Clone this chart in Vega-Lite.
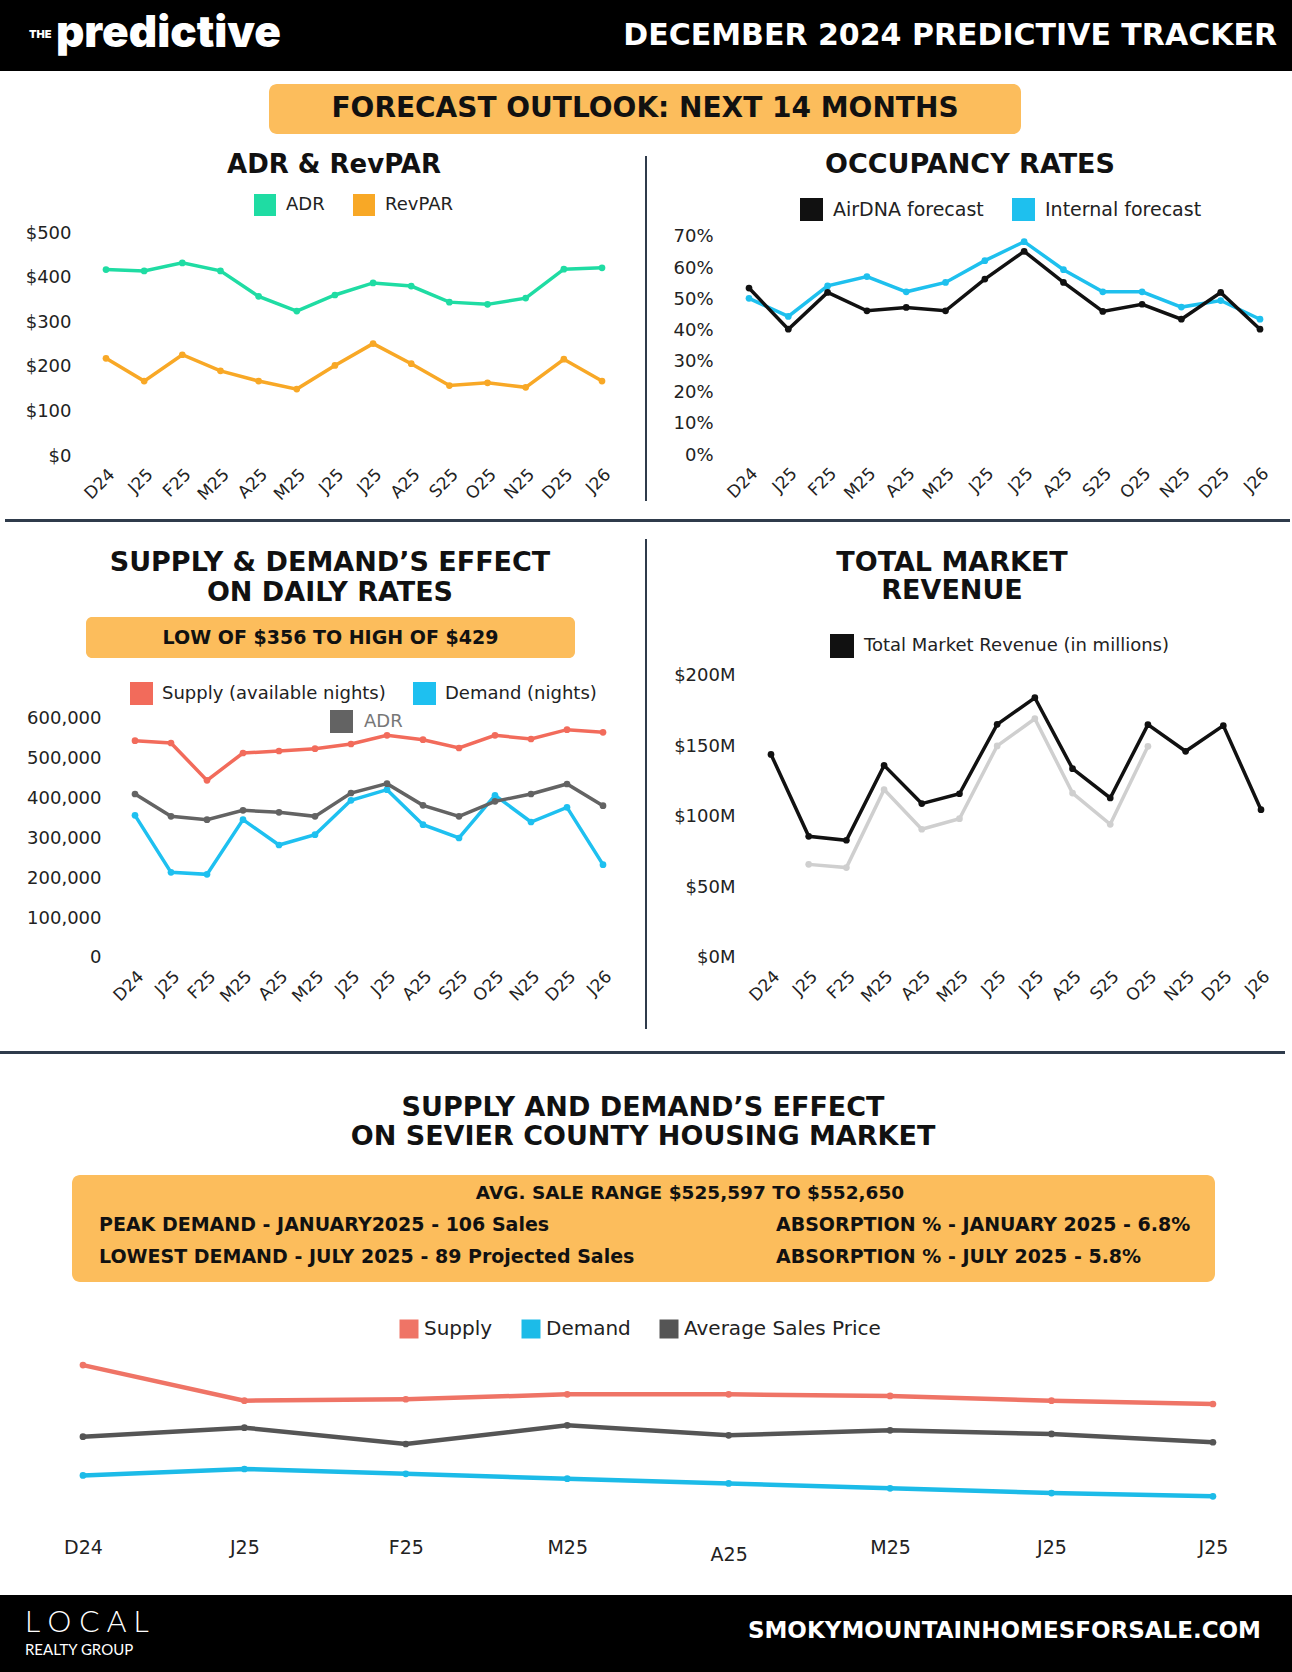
{
  "$schema": "https://vega.github.io/schema/vega-lite/v6.json",
  "padding": 0,
  "background": "#ffffff",
  "spacing": 0,
  "resolve": {"scale": {"color": "independent", "fill": "independent"}, "legend": {"color": "independent", "fill": "independent"}},
  "config": {
    "view": {"stroke": null},
    "concat": {"spacing": 0},
    "font": "DejaVu Sans",
    "axis": {"labelFont": "DejaVu Sans", "labelColor": "#222222", "domain": false, "ticks": false, "grid": false, "title": null, "labelOverlap": false, "labelFlush": false},
    "legend": {"labelFont": "DejaVu Sans", "labelColor": "#222222", "symbolType": "square", "symbolStrokeWidth": 0, "padding": 0, "symbolOpacity": 1, "labelLimit": 600},
    "point": {"opacity": 1}
  },
  "datasets": {
    "adr": [
      {"month": "2024-12", "series": "ADR", "value": 418}, {"month": "2025-01", "series": "ADR", "value": 415},
      {"month": "2025-02", "series": "ADR", "value": 433}, {"month": "2025-03", "series": "ADR", "value": 415},
      {"month": "2025-04", "series": "ADR", "value": 358}, {"month": "2025-05", "series": "ADR", "value": 325},
      {"month": "2025-06", "series": "ADR", "value": 361}, {"month": "2025-07", "series": "ADR", "value": 388},
      {"month": "2025-08", "series": "ADR", "value": 381}, {"month": "2025-09", "series": "ADR", "value": 345},
      {"month": "2025-10", "series": "ADR", "value": 340}, {"month": "2025-11", "series": "ADR", "value": 354},
      {"month": "2025-12", "series": "ADR", "value": 419}, {"month": "2026-01", "series": "ADR", "value": 422},
      {"month": "2024-12", "series": "RevPAR", "value": 219}, {"month": "2025-01", "series": "RevPAR", "value": 168},
      {"month": "2025-02", "series": "RevPAR", "value": 227}, {"month": "2025-03", "series": "RevPAR", "value": 191},
      {"month": "2025-04", "series": "RevPAR", "value": 168}, {"month": "2025-05", "series": "RevPAR", "value": 150},
      {"month": "2025-06", "series": "RevPAR", "value": 203}, {"month": "2025-07", "series": "RevPAR", "value": 252},
      {"month": "2025-08", "series": "RevPAR", "value": 207}, {"month": "2025-09", "series": "RevPAR", "value": 158},
      {"month": "2025-10", "series": "RevPAR", "value": 164}, {"month": "2025-11", "series": "RevPAR", "value": 154},
      {"month": "2025-12", "series": "RevPAR", "value": 217}, {"month": "2026-01", "series": "RevPAR", "value": 168}
    ],
    "occ": [
      {"month": "2024-12", "series": "Internal forecast", "value": 0.503}, {"month": "2025-01", "series": "Internal forecast", "value": 0.445},
      {"month": "2025-02", "series": "Internal forecast", "value": 0.543}, {"month": "2025-03", "series": "Internal forecast", "value": 0.573},
      {"month": "2025-04", "series": "Internal forecast", "value": 0.524}, {"month": "2025-05", "series": "Internal forecast", "value": 0.554},
      {"month": "2025-06", "series": "Internal forecast", "value": 0.624}, {"month": "2025-07", "series": "Internal forecast", "value": 0.685},
      {"month": "2025-08", "series": "Internal forecast", "value": 0.595}, {"month": "2025-09", "series": "Internal forecast", "value": 0.524},
      {"month": "2025-10", "series": "Internal forecast", "value": 0.524}, {"month": "2025-11", "series": "Internal forecast", "value": 0.475},
      {"month": "2025-12", "series": "Internal forecast", "value": 0.496}, {"month": "2026-01", "series": "Internal forecast", "value": 0.436},
      {"month": "2024-12", "series": "AirDNA forecast", "value": 0.536}, {"month": "2025-01", "series": "AirDNA forecast", "value": 0.404},
      {"month": "2025-02", "series": "AirDNA forecast", "value": 0.522}, {"month": "2025-03", "series": "AirDNA forecast", "value": 0.463},
      {"month": "2025-04", "series": "AirDNA forecast", "value": 0.474}, {"month": "2025-05", "series": "AirDNA forecast", "value": 0.463},
      {"month": "2025-06", "series": "AirDNA forecast", "value": 0.565}, {"month": "2025-07", "series": "AirDNA forecast", "value": 0.654},
      {"month": "2025-08", "series": "AirDNA forecast", "value": 0.554}, {"month": "2025-09", "series": "AirDNA forecast", "value": 0.461},
      {"month": "2025-10", "series": "AirDNA forecast", "value": 0.484}, {"month": "2025-11", "series": "AirDNA forecast", "value": 0.436},
      {"month": "2025-12", "series": "AirDNA forecast", "value": 0.522}, {"month": "2026-01", "series": "AirDNA forecast", "value": 0.404}
    ],
    "daily": [
      {"month": "2024-12", "series": "Supply (available nights)", "value": 545600}, {"month": "2025-01", "series": "Supply (available nights)", "value": 539700},
      {"month": "2025-02", "series": "Supply (available nights)", "value": 446000}, {"month": "2025-03", "series": "Supply (available nights)", "value": 514600},
      {"month": "2025-04", "series": "Supply (available nights)", "value": 519700}, {"month": "2025-05", "series": "Supply (available nights)", "value": 525500},
      {"month": "2025-06", "series": "Supply (available nights)", "value": 537200}, {"month": "2025-07", "series": "Supply (available nights)", "value": 559000},
      {"month": "2025-08", "series": "Supply (available nights)", "value": 548100}, {"month": "2025-09", "series": "Supply (available nights)", "value": 527200},
      {"month": "2025-10", "series": "Supply (available nights)", "value": 559000}, {"month": "2025-11", "series": "Supply (available nights)", "value": 549800},
      {"month": "2025-12", "series": "Supply (available nights)", "value": 573200}, {"month": "2026-01", "series": "Supply (available nights)", "value": 566500},
      {"month": "2024-12", "series": "Demand (nights)", "value": 358200}, {"month": "2025-01", "series": "Demand (nights)", "value": 215100},
      {"month": "2025-02", "series": "Demand (nights)", "value": 210000}, {"month": "2025-03", "series": "Demand (nights)", "value": 347300},
      {"month": "2025-04", "series": "Demand (nights)", "value": 283700}, {"month": "2025-05", "series": "Demand (nights)", "value": 309600},
      {"month": "2025-06", "series": "Demand (nights)", "value": 395800}, {"month": "2025-07", "series": "Demand (nights)", "value": 422600},
      {"month": "2025-08", "series": "Demand (nights)", "value": 334700}, {"month": "2025-09", "series": "Demand (nights)", "value": 301300},
      {"month": "2025-10", "series": "Demand (nights)", "value": 408400}, {"month": "2025-11", "series": "Demand (nights)", "value": 341400},
      {"month": "2025-12", "series": "Demand (nights)", "value": 378200}, {"month": "2026-01", "series": "Demand (nights)", "value": 234300},
      {"month": "2024-12", "series": "ADR", "value": 411700}, {"month": "2025-01", "series": "ADR", "value": 355600},
      {"month": "2025-02", "series": "ADR", "value": 347300}, {"month": "2025-03", "series": "ADR", "value": 370700},
      {"month": "2025-04", "series": "ADR", "value": 365700}, {"month": "2025-05", "series": "ADR", "value": 355600},
      {"month": "2025-06", "series": "ADR", "value": 414200}, {"month": "2025-07", "series": "ADR", "value": 437700},
      {"month": "2025-08", "series": "ADR", "value": 383300}, {"month": "2025-09", "series": "ADR", "value": 355600},
      {"month": "2025-10", "series": "ADR", "value": 393300}, {"month": "2025-11", "series": "ADR", "value": 411700},
      {"month": "2025-12", "series": "ADR", "value": 436800}, {"month": "2026-01", "series": "ADR", "value": 382400}
    ],
    "revenue": [
      {"month": "2025-01", "series": "Prior year", "value": 66.4}, {"month": "2025-02", "series": "Prior year", "value": 64.1},
      {"month": "2025-03", "series": "Prior year", "value": 119.4}, {"month": "2025-04", "series": "Prior year", "value": 91.3},
      {"month": "2025-05", "series": "Prior year", "value": 98.8}, {"month": "2025-06", "series": "Prior year", "value": 150.4},
      {"month": "2025-07", "series": "Prior year", "value": 169.7}, {"month": "2025-08", "series": "Prior year", "value": 117.0},
      {"month": "2025-09", "series": "Prior year", "value": 94.8}, {"month": "2025-10", "series": "Prior year", "value": 150.1},
      {"month": "2024-12", "series": "Total Market Revenue (in millions)", "value": 144.4}, {"month": "2025-01", "series": "Total Market Revenue (in millions)", "value": 86.3},
      {"month": "2025-02", "series": "Total Market Revenue (in millions)", "value": 83.5}, {"month": "2025-03", "series": "Total Market Revenue (in millions)", "value": 136.6},
      {"month": "2025-04", "series": "Total Market Revenue (in millions)", "value": 109.5}, {"month": "2025-05", "series": "Total Market Revenue (in millions)", "value": 116.5},
      {"month": "2025-06", "series": "Total Market Revenue (in millions)", "value": 165.7}, {"month": "2025-07", "series": "Total Market Revenue (in millions)", "value": 184.6},
      {"month": "2025-08", "series": "Total Market Revenue (in millions)", "value": 134.3}, {"month": "2025-09", "series": "Total Market Revenue (in millions)", "value": 113.5},
      {"month": "2025-10", "series": "Total Market Revenue (in millions)", "value": 165.5}, {"month": "2025-11", "series": "Total Market Revenue (in millions)", "value": 146.6},
      {"month": "2025-12", "series": "Total Market Revenue (in millions)", "value": 164.8}, {"month": "2026-01", "series": "Total Market Revenue (in millions)", "value": 105.2}
    ],
    "housing": [
      {"month": "2024-12", "series": "Supply", "value": 1829}, {"month": "2025-01", "series": "Supply", "value": 1559},
      {"month": "2025-02", "series": "Supply", "value": 1570}, {"month": "2025-03", "series": "Supply", "value": 1607},
      {"month": "2025-04", "series": "Supply", "value": 1607}, {"month": "2025-05", "series": "Supply", "value": 1595},
      {"month": "2025-06", "series": "Supply", "value": 1559}, {"month": "2025-07", "series": "Supply", "value": 1534},
      {"month": "2024-12", "series": "Demand", "value": 102}, {"month": "2025-01", "series": "Demand", "value": 106},
      {"month": "2025-02", "series": "Demand", "value": 103}, {"month": "2025-03", "series": "Demand", "value": 100},
      {"month": "2025-04", "series": "Demand", "value": 97}, {"month": "2025-05", "series": "Demand", "value": 94},
      {"month": "2025-06", "series": "Demand", "value": 91}, {"month": "2025-07", "series": "Demand", "value": 89},
      {"month": "2024-12", "series": "Average Sales Price", "value": 536200}, {"month": "2025-01", "series": "Average Sales Price", "value": 549200},
      {"month": "2025-02", "series": "Average Sales Price", "value": 525597}, {"month": "2025-03", "series": "Average Sales Price", "value": 552650},
      {"month": "2025-04", "series": "Average Sales Price", "value": 538200}, {"month": "2025-05", "series": "Average Sales Price", "value": 545400},
      {"month": "2025-06", "series": "Average Sales Price", "value": 540100}, {"month": "2025-07", "series": "Average Sales Price", "value": 528100}
    ]
  },
  "vconcat": [
    {
      "width": 1292, "height": 71, "view": {"fill": "#000000", "stroke": null},
      "layer": [
        {"data": {"values": [{"t": "THE"}]}, "mark": {"type": "text", "font": "Inter, Roboto, sans-serif", "fontWeight": 900, "fontSize": 11, "align": "left", "baseline": "middle", "color": "#ffffff"},
         "encoding": {"text": {"field": "t", "type": "nominal"}, "x": {"field": "t", "type": "nominal", "axis": null, "scale": {"type": "point", "padding": 0, "align": 0.0225}}, "y": {"field": "t", "type": "nominal", "axis": null, "scale": {"type": "point", "padding": 0, "align": 0.49}}}},
        {"data": {"values": [{"t": "predictive"}]}, "mark": {"type": "text", "font": "Inter, Roboto, sans-serif", "fontWeight": 900, "fontSize": 44, "align": "left", "baseline": "alphabetic", "color": "#ffffff"},
         "encoding": {"text": {"field": "t", "type": "nominal"}, "x": {"field": "t", "type": "nominal", "axis": null, "scale": {"type": "point", "padding": 0, "align": 0.0433}}, "y": {"field": "t", "type": "nominal", "axis": null, "scale": {"type": "point", "padding": 0, "align": 0.662}}}},
        {"data": {"values": [{"t": "DECEMBER 2024 PREDICTIVE TRACKER"}]}, "mark": {"type": "text", "font": "DejaVu Sans", "fontWeight": "bold", "fontSize": 30, "align": "right", "baseline": "middle", "color": "#ffffff"},
         "encoding": {"text": {"field": "t", "type": "nominal"}, "x": {"field": "t", "type": "nominal", "axis": null, "scale": {"type": "point", "padding": 0, "align": 0.9884}}, "y": {"field": "t", "type": "nominal", "axis": null, "scale": {"type": "point", "padding": 0, "align": 0.5}}}}
      ],
      "resolve": {"scale": {"x": "independent", "y": "independent"}}
    },
    {
      "spacing": 0,
      "hconcat": [
        {"width": 269, "height": 75, "data": {"values": []}, "mark": "point"},
        {"spacing": 0, "vconcat": [
          {"width": 752, "height": 13, "data": {"values": []}, "mark": "point"},
          {"width": 752, "height": 50, "view": {"fill": "#fcbd5c", "cornerRadius": 8, "stroke": null},
           "data": {"values": [{"t": "FORECAST OUTLOOK: NEXT 14 MONTHS"}]},
           "mark": {"type": "text", "font": "DejaVu Sans", "fontWeight": "bold", "fontSize": 28, "align": "center", "baseline": "middle", "color": "#111111"},
           "encoding": {"text": {"field": "t", "type": "nominal"}}},
          {"width": 752, "height": 12, "data": {"values": []}, "mark": "point"}
        ]},
        {"width": 271, "height": 75, "data": {"values": []}, "mark": "point"}
      ]
    },
    {
      "spacing": 0,
      "resolve": {"scale": {"color": "independent", "fill": "independent"}, "legend": {"color": "independent", "fill": "independent"}},
      "hconcat": [
        {
          "width": 645, "height": 373,
          "layer": [
            {"data": {"values": [{"t": "ADR & RevPAR"}]}, "mark": {"type": "text", "font": "DejaVu Sans", "fontWeight": "bold", "fontSize": 26, "align": "center", "baseline": "middle", "color": "#111111"},
             "encoding": {"text": {"field": "t", "type": "nominal"}, "x": {"field": "t", "type": "nominal", "axis": null, "scale": {"type": "point", "padding": 0, "align": 0.5178}}, "y": {"field": "t", "type": "nominal", "axis": null, "scale": {"type": "point", "padding": 0, "align": 0.0509}}}},
            {
              "data": {"name": "adr"},
              "encoding": {
                "x": {"field": "month", "type": "ordinal", "scale": {"type": "point", "padding": 0, "range": [106, 602]},
                      "axis": {"orient": "bottom", "offset": -63, "labelAngle": -45, "labelFontSize": 17, "labelPadding": 10,
                               "labelExpr": "substring('JFMAMJJASOND', toNumber(substring(datum.value, 5, 7)) - 1, toNumber(substring(datum.value, 5, 7))) + substring(datum.value, 2, 4)"}},
                "y": {"field": "value", "type": "quantitative", "scale": {"domain": [-141.25, 695.07], "nice": false, "zero": false},
                      "axis": {"orient": "left", "offset": -85, "values": [0, 100, 200, 300, 400, 500], "labelExpr": "'$' + datum.value", "labelFontSize": 18, "labelPadding": 14}}
              },
              "layer": [
                {"mark": {"type": "line", "strokeWidth": 3.5}, "encoding": {"color": {"field": "series", "type": "nominal", "scale": {"domain": ["ADR", "RevPAR"], "range": ["#1fdca3", "#f8a826"]},
                  "legend": {"orient": "none", "legendX": 254, "legendY": 48, "direction": "horizontal", "title": null, "symbolType": "square", "symbolSize": 484, "labelFontSize": 18, "labelOffset": 10, "columnPadding": 28}}}},
                {"mark": {"type": "point", "filled": true, "size": 45, "opacity": 1}, "encoding": {"fill": {"field": "series", "type": "nominal", "scale": {"domain": ["ADR", "RevPAR"], "range": ["#1fdca3", "#f8a826"]},
                  "legend": {"orient": "none", "legendX": 254, "legendY": 48, "direction": "horizontal", "title": null, "symbolType": "square", "symbolSize": 484, "labelFontSize": 18, "labelOffset": 10, "columnPadding": 28}}}}
              ]
            }
          ],
          "resolve": {"scale": {"x": "independent", "y": "independent"}}
        },
        {"spacing": 0, "vconcat": [
          {"width": 2, "height": 10, "data": {"values": []}, "mark": "point"},
          {"width": 2, "height": 345, "data": {"values": []}, "mark": "point", "view": {"fill": "#2f3b4b", "stroke": null}},
          {"width": 2, "height": 18, "data": {"values": []}, "mark": "point"}
        ]},
        {
          "width": 645, "height": 373,
          "layer": [
            {"data": {"values": [{"t": "OCCUPANCY RATES"}]}, "mark": {"type": "text", "font": "DejaVu Sans", "fontWeight": "bold", "fontSize": 27, "align": "center", "baseline": "middle", "color": "#111111"},
             "encoding": {"text": {"field": "t", "type": "nominal"}, "x": {"field": "t", "type": "nominal", "axis": null, "scale": {"type": "point", "padding": 0, "align": 0.5008}}, "y": {"field": "t", "type": "nominal", "axis": null, "scale": {"type": "point", "padding": 0, "align": 0.0509}}}},
            {
              "data": {"name": "occ"},
              "encoding": {
                "x": {"field": "month", "type": "ordinal", "scale": {"type": "point", "padding": 0, "range": [102, 613]},
                      "axis": {"orient": "bottom", "offset": -64, "labelAngle": -45, "labelFontSize": 17, "labelPadding": 10,
                               "labelExpr": "substring('JFMAMJJASOND', toNumber(substring(datum.value, 5, 7)) - 1, toNumber(substring(datum.value, 5, 7))) + substring(datum.value, 2, 4)"}},
                "y": {"field": "value", "type": "quantitative", "scale": {"domain": [-0.2055, 0.9922], "nice": false, "zero": false},
                      "axis": {"orient": "left", "offset": -82, "values": [0, 0.1, 0.2, 0.3, 0.4, 0.5, 0.6, 0.7], "format": ".0%", "labelFontSize": 18, "labelPadding": 16}}
              },
              "layer": [
                {"mark": {"type": "line", "strokeWidth": 3.5}, "encoding": {"color": {"field": "series", "type": "nominal", "scale": {"domain": ["AirDNA forecast", "Internal forecast"], "range": ["#111111", "#1ec0ee"]},
                  "legend": {"orient": "none", "legendX": 153, "legendY": 52, "direction": "horizontal", "title": null, "symbolType": "square", "symbolSize": 529, "labelFontSize": 19, "labelOffset": 10, "columnPadding": 28}}}},
                {"mark": {"type": "point", "filled": true, "size": 45, "opacity": 1}, "encoding": {"fill": {"field": "series", "type": "nominal", "scale": {"domain": ["AirDNA forecast", "Internal forecast"], "range": ["#111111", "#1ec0ee"]},
                  "legend": {"orient": "none", "legendX": 153, "legendY": 52, "direction": "horizontal", "title": null, "symbolType": "square", "symbolSize": 529, "labelFontSize": 19, "labelOffset": 10, "columnPadding": 28}}}}
              ]
            }
          ],
          "resolve": {"scale": {"x": "independent", "y": "independent"}}
        }
      ]
    },
    {
      "spacing": 0,
      "hconcat": [
        {"width": 5, "height": 3, "data": {"values": []}, "mark": "point"},
        {"width": 1285, "height": 3, "data": {"values": []}, "mark": "point", "view": {"fill": "#2f3b4b", "stroke": null}},
        {"width": 2, "height": 3, "data": {"values": []}, "mark": "point"}
      ]
    },
    {
      "spacing": 0,
      "resolve": {"scale": {"color": "independent", "fill": "independent"}, "legend": {"color": "independent", "fill": "independent"}},
      "hconcat": [
        {"spacing": 0,
         "resolve": {"scale": {"color": "independent", "fill": "independent"}, "legend": {"color": "independent", "fill": "independent"}},
         "vconcat": [
          {"width": 645, "height": 95, "data": {"values": [{"t": "SUPPLY & DEMAND’S EFFECT\nON DAILY RATES"}]},
           "mark": {"type": "text", "font": "DejaVu Sans", "fontWeight": "bold", "fontSize": 27, "lineBreak": "\n", "lineHeight": 30, "align": "center", "baseline": "middle", "color": "#111111"},
           "encoding": {"text": {"field": "t", "type": "nominal"}, "x": {"field": "t", "type": "nominal", "axis": null, "scale": {"type": "point", "padding": 0, "align": 0.5116}}, "y": {"field": "t", "type": "nominal", "axis": null, "scale": {"type": "point", "padding": 0, "align": 0.4316}}}},
          {"spacing": 0, "hconcat": [
            {"width": 86, "height": 41, "data": {"values": []}, "mark": "point"},
            {"width": 489, "height": 41, "view": {"fill": "#fcbd5c", "cornerRadius": 6, "stroke": null},
             "data": {"values": [{"t": "LOW OF $356 TO HIGH OF $429"}]},
             "mark": {"type": "text", "font": "DejaVu Sans", "fontWeight": "bold", "fontSize": 19, "align": "center", "baseline": "middle", "color": "#111111"},
             "encoding": {"text": {"field": "t", "type": "nominal"}}},
            {"width": 70, "height": 41, "data": {"values": []}, "mark": "point"}
          ]},
          {
            "width": 645, "height": 393,
            "data": {"name": "daily"},
            "encoding": {
              "x": {"field": "month", "type": "ordinal", "scale": {"type": "point", "padding": 0, "range": [135, 603]},
                    "axis": {"orient": "bottom", "offset": -93, "labelAngle": -45, "labelFontSize": 17, "labelPadding": 10,
                             "labelExpr": "substring('JFMAMJJASOND', toNumber(substring(datum.value, 5, 7)) - 1, toNumber(substring(datum.value, 5, 7))) + substring(datum.value, 2, 4)"}},
              "y": {"field": "value", "type": "quantitative", "scale": {"domain": [-233473, 753138], "nice": false, "zero": false},
                    "axis": {"orient": "left", "offset": -117, "values": [0, 100000, 200000, 300000, 400000, 500000, 600000], "format": ",.0f", "labelFontSize": 18, "labelPadding": 16}}
            },
            "layer": [
              {
                "transform": [{"filter": {"field": "series", "oneOf": ["Supply (available nights)", "Demand (nights)"]}}],
                "layer": [
                  {"mark": {"type": "line", "strokeWidth": 3.5}, "encoding": {"color": {"field": "series", "type": "nominal", "scale": {"domain": ["Supply (available nights)", "Demand (nights)"], "range": ["#f26b5b", "#1ec0f0"]},
                    "legend": {"orient": "none", "legendX": 130, "legendY": 24, "direction": "horizontal", "title": null, "symbolType": "square", "symbolSize": 529, "labelFontSize": 18, "labelOffset": 9, "columnPadding": 27}}}},
                  {"mark": {"type": "point", "filled": true, "size": 45, "opacity": 1}, "encoding": {"fill": {"field": "series", "type": "nominal", "scale": {"domain": ["Supply (available nights)", "Demand (nights)"], "range": ["#f26b5b", "#1ec0f0"]},
                    "legend": {"orient": "none", "legendX": 130, "legendY": 24, "direction": "horizontal", "title": null, "symbolType": "square", "symbolSize": 529, "labelFontSize": 18, "labelOffset": 9, "columnPadding": 27}}}}
                ]
              },
              {
                "transform": [{"filter": {"field": "series", "equal": "ADR"}}],
                "layer": [
                  {"mark": {"type": "line", "strokeWidth": 3.5}, "encoding": {"color": {"field": "series", "type": "nominal", "scale": {"domain": ["ADR"], "range": ["#636363"]},
                    "legend": {"orient": "none", "legendX": 330, "legendY": 52, "direction": "horizontal", "title": null, "symbolType": "square", "symbolSize": 529, "labelFontSize": 18, "labelOffset": 11, "labelColor": "#777777"}}}},
                  {"mark": {"type": "point", "filled": true, "size": 45, "opacity": 1}, "encoding": {"fill": {"field": "series", "type": "nominal", "scale": {"domain": ["ADR"], "range": ["#636363"]},
                    "legend": {"orient": "none", "legendX": 330, "legendY": 52, "direction": "horizontal", "title": null, "symbolType": "square", "symbolSize": 529, "labelFontSize": 18, "labelOffset": 11, "labelColor": "#777777"}}}}
                ]
              }
            ],
            "resolve": {"scale": {"color": "independent", "fill": "independent"}}
          }
        ]},
        {"spacing": 0, "vconcat": [
          {"width": 2, "height": 17, "data": {"values": []}, "mark": "point"},
          {"width": 2, "height": 490, "data": {"values": []}, "mark": "point", "view": {"fill": "#2f3b4b", "stroke": null}},
          {"width": 2, "height": 22, "data": {"values": []}, "mark": "point"}
        ]},
        {
          "width": 645, "height": 529,
          "layer": [
            {"data": {"values": [{"t": "TOTAL MARKET\nREVENUE"}]}, "mark": {"type": "text", "font": "DejaVu Sans", "fontWeight": "bold", "fontSize": 27, "lineBreak": "\n", "lineHeight": 28, "align": "center", "baseline": "middle", "color": "#111111"},
             "encoding": {"text": {"field": "t", "type": "nominal"}, "x": {"field": "t", "type": "nominal", "axis": null, "scale": {"type": "point", "padding": 0, "align": 0.4729}}, "y": {"field": "t", "type": "nominal", "axis": null, "scale": {"type": "point", "padding": 0, "align": 0.0775}}}},
            {
              "data": {"name": "revenue"},
              "encoding": {
                "x": {"field": "month", "type": "ordinal", "scale": {"type": "point", "padding": 0, "range": [124, 614], "domain": ["2024-12", "2025-01", "2025-02", "2025-03", "2025-04", "2025-05", "2025-06", "2025-07", "2025-08", "2025-09", "2025-10", "2025-11", "2025-12", "2026-01"]},
                      "axis": {"orient": "bottom", "offset": -93, "labelAngle": -45, "labelFontSize": 17, "labelPadding": 10,
                               "labelExpr": "substring('JFMAMJJASOND', toNumber(substring(datum.value, 5, 7)) - 1, toNumber(substring(datum.value, 5, 7))) + substring(datum.value, 2, 4)"}},
                "y": {"field": "value", "type": "quantitative", "scale": {"domain": [-65.96, 309.22], "nice": false, "zero": false},
                      "axis": {"orient": "left", "offset": -105, "values": [0, 50, 100, 150, 200], "labelExpr": "'$' + datum.value + 'M'", "labelFontSize": 18, "labelPadding": 17}}
              },
              "layer": [
                {"mark": {"type": "line", "strokeWidth": 3.5}, "encoding": {"color": {"field": "series", "type": "nominal", "scale": {"domain": ["Total Market Revenue (in millions)", "Prior year"], "range": ["#111111", "#cfcfcf"]},
                  "legend": {"orient": "none", "legendX": 183, "legendY": 112, "direction": "horizontal", "title": null, "values": ["Total Market Revenue (in millions)"], "symbolType": "square", "symbolSize": 576, "labelFontSize": 18, "labelOffset": 10}}}},
                {"mark": {"type": "point", "filled": true, "size": 45, "opacity": 1}, "encoding": {"fill": {"field": "series", "type": "nominal", "scale": {"domain": ["Total Market Revenue (in millions)", "Prior year"], "range": ["#111111", "#cfcfcf"]},
                  "legend": {"orient": "none", "legendX": 183, "legendY": 112, "direction": "horizontal", "title": null, "values": ["Total Market Revenue (in millions)"], "symbolType": "square", "symbolSize": 576, "labelFontSize": 18, "labelOffset": 10}}}}
              ]
            }
          ],
          "resolve": {"scale": {"x": "independent", "y": "independent"}}
        }
      ]
    },
    {
      "spacing": 0,
      "hconcat": [
        {"width": 1285, "height": 3, "data": {"values": []}, "mark": "point", "view": {"fill": "#2f3b4b", "stroke": null}},
        {"width": 7, "height": 3, "data": {"values": []}, "mark": "point"}
      ]
    },
    {
      "spacing": 0,
      "resolve": {"scale": {"color": "independent", "fill": "independent"}, "legend": {"color": "independent", "fill": "independent"}},
      "vconcat": [
        {"width": 1292, "height": 121, "data": {"values": [{"t": "SUPPLY AND DEMAND’S EFFECT\nON SEVIER COUNTY HOUSING MARKET"}]},
         "mark": {"type": "text", "font": "DejaVu Sans", "fontWeight": "bold", "fontSize": 27, "lineBreak": "\n", "lineHeight": 29, "align": "center", "baseline": "middle", "color": "#111111"},
         "encoding": {"text": {"field": "t", "type": "nominal"}, "x": {"field": "t", "type": "nominal", "axis": null, "scale": {"type": "point", "padding": 0, "align": 0.4977}}, "y": {"field": "t", "type": "nominal", "axis": null, "scale": {"type": "point", "padding": 0, "align": 0.4463}}}},
        {"spacing": 0, "hconcat": [
          {"width": 72, "height": 107, "data": {"values": []}, "mark": "point"},
          {
            "width": 1143, "height": 107, "view": {"fill": "#fcbd5c", "cornerRadius": 8, "stroke": null},
            "layer": [
              {"data": {"values": [{"t": "AVG. SALE RANGE $525,597 TO $552,650"}]}, "mark": {"type": "text", "font": "DejaVu Sans", "fontWeight": "bold", "fontSize": 18.5, "align": "center", "baseline": "middle", "color": "#111111"},
               "encoding": {"text": {"field": "t", "type": "nominal"}, "x": {"field": "t", "type": "nominal", "axis": null, "scale": {"type": "point", "padding": 0, "align": 0.5407}}, "y": {"field": "t", "type": "nominal", "axis": null, "scale": {"type": "point", "padding": 0, "align": 0.1682}}}},
              {"data": {"values": [{"t": "PEAK DEMAND - JANUARY2025 - 106 Sales"}]}, "mark": {"type": "text", "font": "DejaVu Sans", "fontWeight": "bold", "fontSize": 19, "align": "left", "baseline": "middle", "color": "#111111"},
               "encoding": {"text": {"field": "t", "type": "nominal"}, "x": {"field": "t", "type": "nominal", "axis": null, "scale": {"type": "point", "padding": 0, "align": 0.0236}}, "y": {"field": "t", "type": "nominal", "axis": null, "scale": {"type": "point", "padding": 0, "align": 0.4673}}}},
              {"data": {"values": [{"t": "LOWEST DEMAND - JULY 2025 - 89 Projected Sales"}]}, "mark": {"type": "text", "font": "DejaVu Sans", "fontWeight": "bold", "fontSize": 19, "align": "left", "baseline": "middle", "color": "#111111"},
               "encoding": {"text": {"field": "t", "type": "nominal"}, "x": {"field": "t", "type": "nominal", "axis": null, "scale": {"type": "point", "padding": 0, "align": 0.0236}}, "y": {"field": "t", "type": "nominal", "axis": null, "scale": {"type": "point", "padding": 0, "align": 0.7664}}}},
              {"data": {"values": [{"t": "ABSORPTION % - JANUARY 2025 - 6.8%"}]}, "mark": {"type": "text", "font": "DejaVu Sans", "fontWeight": "bold", "fontSize": 19, "align": "left", "baseline": "middle", "color": "#111111"},
               "encoding": {"text": {"field": "t", "type": "nominal"}, "x": {"field": "t", "type": "nominal", "axis": null, "scale": {"type": "point", "padding": 0, "align": 0.6159}}, "y": {"field": "t", "type": "nominal", "axis": null, "scale": {"type": "point", "padding": 0, "align": 0.4673}}}},
              {"data": {"values": [{"t": "ABSORPTION % - JULY 2025 - 5.8%"}]}, "mark": {"type": "text", "font": "DejaVu Sans", "fontWeight": "bold", "fontSize": 19, "align": "left", "baseline": "middle", "color": "#111111"},
               "encoding": {"text": {"field": "t", "type": "nominal"}, "x": {"field": "t", "type": "nominal", "axis": null, "scale": {"type": "point", "padding": 0, "align": 0.6159}}, "y": {"field": "t", "type": "nominal", "axis": null, "scale": {"type": "point", "padding": 0, "align": 0.7664}}}}
            ],
            "resolve": {"scale": {"x": "independent", "y": "independent"}}
          },
          {"width": 77, "height": 107, "data": {"values": []}, "mark": "point"}
        ]},
        {
          "width": 1292, "height": 313,
          "data": {"name": "housing"},
          "encoding": {
            "x": {"field": "month", "type": "ordinal", "scale": {"type": "point", "padding": 0.5018, "align": 0.512},
                  "axis": {"orient": "bottom", "offset": -75, "labelAngle": 0, "labelFontSize": 19, "labelBaseline": "top",
                           "labelPadding": {"condition": {"test": "datum.value === '2025-04'", "value": 25}, "value": 18},
                           "labelExpr": "substring('JFMAMJJASOND', toNumber(substring(datum.value, 5, 7)) - 1, toNumber(substring(datum.value, 5, 7))) + substring(datum.value, 2, 4)"}}
          },
          "layer": [
            {
              "transform": [{"filter": {"field": "series", "equal": "Supply"}}],
              "encoding": {"y": {"field": "value", "type": "quantitative", "axis": null, "scale": {"domain": [86.2, 2458.7], "nice": false, "zero": false}}},
              "layer": [
                {"mark": {"type": "line", "strokeWidth": 4.5}, "encoding": {"color": {"field": "series", "type": "nominal", "scale": {"domain": ["Supply", "Demand", "Average Sales Price"], "range": ["#ef7466", "#1cbbe8", "#555555"]},
                  "legend": {"orient": "none", "legendX": 399, "legendY": 37, "direction": "horizontal", "title": null, "symbolType": "square", "symbolSize": 361, "labelFontSize": 20, "labelOffset": 5, "columnPadding": 28}}}},
                {"mark": {"type": "point", "filled": true, "size": 45, "opacity": 1}, "encoding": {"fill": {"field": "series", "type": "nominal", "scale": {"domain": ["Supply", "Demand", "Average Sales Price"], "range": ["#ef7466", "#1cbbe8", "#555555"]},
                  "legend": {"orient": "none", "legendX": 399, "legendY": 37, "direction": "horizontal", "title": null, "symbolType": "square", "symbolSize": 361, "labelFontSize": 20, "labelOffset": 5, "columnPadding": 28}}}}
              ]
            },
            {
              "transform": [{"filter": {"field": "series", "equal": "Demand"}}],
              "encoding": {"y": {"field": "value", "type": "quantitative", "axis": null, "scale": {"domain": [27.55, 222.45], "nice": false, "zero": false}}},
              "layer": [
                {"mark": {"type": "line", "strokeWidth": 4.5}, "encoding": {"color": {"field": "series", "type": "nominal", "scale": {"domain": ["Supply", "Demand", "Average Sales Price"], "range": ["#ef7466", "#1cbbe8", "#555555"]},
                  "legend": {"orient": "none", "legendX": 399, "legendY": 37, "direction": "horizontal", "title": null, "symbolType": "square", "symbolSize": 361, "labelFontSize": 20, "labelOffset": 5, "columnPadding": 28}}}},
                {"mark": {"type": "point", "filled": true, "size": 45, "opacity": 1}, "encoding": {"fill": {"field": "series", "type": "nominal", "scale": {"domain": ["Supply", "Demand", "Average Sales Price"], "range": ["#ef7466", "#1cbbe8", "#555555"]},
                  "legend": {"orient": "none", "legendX": 399, "legendY": 37, "direction": "horizontal", "title": null, "symbolType": "square", "symbolSize": 361, "labelFontSize": 20, "labelOffset": 5, "columnPadding": 28}}}}
              ]
            },
            {
              "transform": [{"filter": {"field": "series", "equal": "Average Sales Price"}}],
              "encoding": {"y": {"field": "value", "type": "quantitative", "axis": null, "scale": {"domain": [307149, 759959], "nice": false, "zero": false}}},
              "layer": [
                {"mark": {"type": "line", "strokeWidth": 4.5}, "encoding": {"color": {"field": "series", "type": "nominal", "scale": {"domain": ["Supply", "Demand", "Average Sales Price"], "range": ["#ef7466", "#1cbbe8", "#555555"]},
                  "legend": {"orient": "none", "legendX": 399, "legendY": 37, "direction": "horizontal", "title": null, "symbolType": "square", "symbolSize": 361, "labelFontSize": 20, "labelOffset": 5, "columnPadding": 28}}}},
                {"mark": {"type": "point", "filled": true, "size": 45, "opacity": 1}, "encoding": {"fill": {"field": "series", "type": "nominal", "scale": {"domain": ["Supply", "Demand", "Average Sales Price"], "range": ["#ef7466", "#1cbbe8", "#555555"]},
                  "legend": {"orient": "none", "legendX": 399, "legendY": 37, "direction": "horizontal", "title": null, "symbolType": "square", "symbolSize": 361, "labelFontSize": 20, "labelOffset": 5, "columnPadding": 28}}}}
              ]
            }
          ],
          "resolve": {"scale": {"y": "independent"}}
        }
      ]
    },
    {
      "width": 1292, "height": 77, "view": {"fill": "#000000", "stroke": null},
      "layer": [
        {"data": {"values": [{"t": "L O C A L"}]}, "mark": {"type": "text", "font": "Lato, Noto Sans, sans-serif", "fontWeight": 300, "fontSize": 30, "align": "left", "baseline": "middle", "color": "#ffffff"},
         "encoding": {"text": {"field": "t", "type": "nominal"}, "x": {"field": "t", "type": "nominal", "axis": null, "scale": {"type": "point", "padding": 0, "align": 0.0193}}, "y": {"field": "t", "type": "nominal", "axis": null, "scale": {"type": "point", "padding": 0, "align": 0.37}}}},
        {"data": {"values": [{"t": "REALTY GROUP"}]}, "mark": {"type": "text", "font": "Lato, Noto Sans, sans-serif", "fontWeight": 400, "fontSize": 15, "align": "left", "baseline": "middle", "color": "#ffffff"},
         "encoding": {"text": {"field": "t", "type": "nominal"}, "x": {"field": "t", "type": "nominal", "axis": null, "scale": {"type": "point", "padding": 0, "align": 0.0193}}, "y": {"field": "t", "type": "nominal", "axis": null, "scale": {"type": "point", "padding": 0, "align": 0.71}}}},
        {"data": {"values": [{"t": "SMOKYMOUNTAINHOMESFORSALE.COM"}]}, "mark": {"type": "text", "font": "DejaVu Sans", "fontWeight": "bold", "fontSize": 23, "align": "right", "baseline": "middle", "color": "#ffffff"},
         "encoding": {"text": {"field": "t", "type": "nominal"}, "x": {"field": "t", "type": "nominal", "axis": null, "scale": {"type": "point", "padding": 0, "align": 0.976}}, "y": {"field": "t", "type": "nominal", "axis": null, "scale": {"type": "point", "padding": 0, "align": 0.4675}}}}
      ],
      "resolve": {"scale": {"x": "independent", "y": "independent"}}
    }
  ]
}
